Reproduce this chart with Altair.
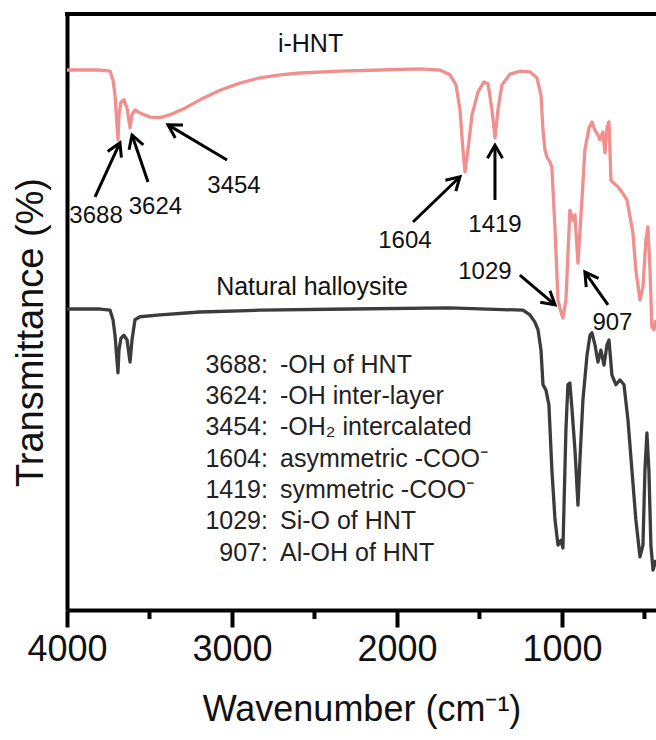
import math
import altair as alt
import pandas as pd

FONT = "Liberation Sans"
W, H = 589, 596
WN_MAX, WN_MIN = 4000, 430

# ---------------- spectra (wavenumber, transmittance a.u.) ----------------
ihnt_wn = [4000, 3800, 3739, 3721, 3709, 3697, 3691, 3685, 3673, 3655, 3636, 3618, 3606,
           3588, 3558, 3497, 3436, 3376, 3285, 3194, 3073, 2952, 2830, 2709, 2588, 2345,
           2103, 1861, 1739, 1679, 1642, 1618, 1600, 1588, 1570, 1545, 1509, 1473, 1448,
           1424, 1406, 1388, 1364, 1315, 1255, 1194, 1152, 1127, 1115, 1103, 1091, 1073,
           1061, 1042, 1024, 1006, 994, 976, 952, 933, 921, 903, 879, 861, 836, 818, 800,
           782, 770, 752, 739, 727, 715, 703, 685, 661, 636, 606, 570, 552, 527, 509, 491,
           479, 467, 455, 442, 430]
ihnt_t = [90.6, 90.6, 90.4, 88.9, 86.4, 81.4, 78.9, 83.1, 85.2, 85.6, 84.2, 80.9, 83.1,
          83.9, 83.4, 82.7, 82.6, 83.1, 84.2, 85.6, 87.2, 88.4, 89.3, 89.8, 90.1, 90.4,
          90.6, 90.8, 90.6, 89.8, 88.1, 83.9, 77.2, 73.5, 77.2, 83.1, 86.9, 88.6, 88.3,
          83.9, 79.2, 83.9, 88.1, 89.9, 90.4, 90.3, 89.3, 86.4, 80.5, 77.2, 76.0, 75.2,
          74.3, 63.8, 52.0, 50.0, 49.0, 52.0, 67.1, 65.4, 66.3, 58.2, 68.8, 77.2, 80.9,
          81.9, 80.5, 79.7, 78.9, 80.2, 76.7, 80.9, 81.9, 72.1, 71.6, 71.0, 70.1, 68.8,
          63.3, 57.0, 52.0, 54.2, 62.1, 64.3, 57.6, 47.5, 47.0, 48.7]

nat_wn = [4000, 3800, 3739, 3721, 3709, 3697, 3691, 3685, 3673, 3655, 3636, 3618, 3606,
          3588, 3558, 3436, 3194, 2830, 2285, 1679, 1236, 1194, 1164, 1145, 1127, 1115,
          1097, 1079, 1061, 1042, 1024, 1006, 994, 976, 964, 952, 939, 921, 903, 891, 873,
          848, 830, 818, 800, 782, 764, 745, 727, 715, 697, 673, 648, 624, 600, 576, 552,
          527, 509, 497, 485, 473, 461, 448, 430]
nat_t = [50.5, 50.5, 50.3, 48.7, 46.1, 41.9, 39.8, 43.6, 45.6, 46.1, 45.3, 41.6, 45.3,
         48.7, 49.2, 49.5, 50.0, 50.3, 50.5, 50.7, 50.3, 49.5, 48.3, 47.0, 43.6, 37.8,
         36.9, 34.4, 23.5, 15.1, 10.9, 11.7, 10.4, 30.2, 37.8, 38.1, 33.6, 26.8, 17.6,
         25.2, 35.2, 42.8, 46.1, 46.5, 44.5, 41.6, 43.6, 41.1, 44.5, 45.3, 39.4, 37.8,
         38.6, 37.8, 31.9, 23.5, 15.1, 8.9, 10.9, 23.5, 29.7, 23.5, 10.9, 6.7, 8.4]

series_names = ["i-HNT", "Natural halloysite"]
series_colors = ["#F08F8E", "#3C3C3C"]

# ---------------- series labels ----------------
lab_text = ["i-HNT", "Natural  halloysite"]
lab_wn = [2524, 2515]
lab_t = [93.6, 52.9]

# ---------------- peak labels + arrows ----------------
peak_text = ["3688", "3624", "3454", "1604", "1419", "1029", "907"]
peak_wn = [3824, 3464, 2988, 1952, 1406, 1467, 694]
peak_t = [65.0, 66.4, 70.0, 60.7, 63.4, 55.5, 47.0]

arrow_tail_wn = [3830, 3509, 3030, 1903, 1406, 1255, 721]
arrow_tail_t = [69.3, 71.8, 75.5, 65.1, 68.8, 56.2, 51.2]
arrow_head_wn = [3679, 3606, 3388, 1618, 1406, 1042, 861]
arrow_head_t = [78.4, 79.7, 81.4, 72.7, 78.0, 51.2, 56.7]

# ---------------- assignment list ----------------
assign_num = ["3688:", "3624:", "3454:", "1604:", "1419:", "1029:", "907:"]
assign_desc = ["-OH of HNT", "-OH inter-layer", "-OH\u2082 intercalated",
               "asymmetric -COO\u207b", "symmetric -COO\u207b", "Si-O of HNT", "Al-OH of HNT"]
assign_t = [39.8, 34.6, 29.3, 24.0, 18.8, 13.6, 8.3]
assign_num_wn = 2782
assign_desc_wn = 2709

minor_ticks = [3500, 2500, 1500, 500]
major_ticks = [4000, 3000, 2000, 1000]

# ---------------- build tables ----------------
spec = pd.concat([
    pd.DataFrame({"wn": ihnt_wn, "t": ihnt_t, "s": series_names[0]}),
    pd.DataFrame({"wn": nat_wn, "t": nat_t, "s": series_names[1]}),
])

sx = W / (WN_MAX - WN_MIN)
sy = H / 100.0
angles = []
for wt, tt, wh, th in zip(arrow_tail_wn, arrow_tail_t, arrow_head_wn, arrow_head_t):
    dx = -(wh - wt) * sx
    dy = -(th - tt) * sy
    angles.append((math.degrees(math.atan2(dx, -dy)) + 360) % 360)

arrows = pd.DataFrame({"wt": arrow_tail_wn, "tt": arrow_tail_t,
                       "wh": arrow_head_wn, "th": arrow_head_t, "ang": angles})
peaks = pd.DataFrame({"wn": peak_wn, "t": peak_t, "txt": peak_text})
labs = pd.DataFrame({"wn": lab_wn, "t": lab_t, "txt": lab_text})
assign = pd.DataFrame({"num": assign_num, "desc": assign_desc, "t": assign_t,
                       "wn1": assign_num_wn, "wn2": assign_desc_wn})
minor = pd.DataFrame({"wn": minor_ticks})

xscale = alt.Scale(domain=[WN_MAX, WN_MIN], nice=False, zero=False)
yscale = alt.Scale(domain=[0, 100], nice=False, zero=False)

xaxis = alt.Axis(values=major_ticks, title="Wavenumber (cm\u207b\u00b9)", grid=False,
                 domainWidth=4, domainColor="black", tickWidth=4, tickColor="black",
                 tickSize=17, labelFontSize=36, labelFont=FONT, labelColor="#111111",
                 labelPadding=33, labelBaseline="alphabetic", labelFlush=False,
                 titleFontSize=36, titleFont=FONT, titleFontWeight="normal",
                 titleColor="#111111", titleY=110, titleBaseline="alphabetic",
                 format="d")
yaxis = alt.Axis(title="Transmittance (%)", grid=False, ticks=False, labels=False,
                 domainWidth=4, domainColor="black",
                 titleFontSize=38, titleFont=FONT, titleFontWeight="normal",
                 titleColor="#111111", titleX=-25, titleY=318, titleAngle=-90,
                 titleBaseline="alphabetic", titleAlign="center")

lines = alt.Chart(spec).mark_line(strokeWidth=3.3, strokeJoin="round").encode(
    x=alt.X("wn:Q", scale=xscale, axis=xaxis),
    y=alt.Y("t:Q", scale=yscale, axis=yaxis),
    color=alt.Color("s:N", scale=alt.Scale(domain=series_names, range=series_colors),
                    legend=None),
    detail="s:N",
)

top_border = alt.Chart(minor).mark_rule(color="black", strokeWidth=4).encode(
    x=alt.value(-2), x2=alt.value(W), y=alt.value(0))

minor_rules = alt.Chart(minor).mark_rule(color="black", strokeWidth=4).encode(
    x=alt.X("wn:Q", scale=xscale), y=alt.value(H), y2=alt.value(H + 9))

series_labels = alt.Chart(labs).mark_text(font=FONT, fontSize=25, color="#111111",
                                          baseline="alphabetic", align="center").encode(
    x=alt.X("wn:Q", scale=xscale), y=alt.Y("t:Q", scale=yscale), text="txt:N")

peak_labels = alt.Chart(peaks).mark_text(font=FONT, fontSize=24, color="#111111",
                                         baseline="alphabetic", align="center").encode(
    x=alt.X("wn:Q", scale=xscale), y=alt.Y("t:Q", scale=yscale), text="txt:N")

shafts = alt.Chart(arrows).mark_rule(color="black", strokeWidth=3).encode(
    x=alt.X("wt:Q", scale=xscale), y=alt.Y("tt:Q", scale=yscale),
    x2="wh:Q", y2="th:Q")

heads = alt.Chart(arrows).mark_point(
    shape="M-0.55,0.95L0,0L0.55,0.95", size=750, filled=False, stroke="black",
    strokeWidth=3, opacity=1, strokeJoin="miter").encode(
    x=alt.X("wh:Q", scale=xscale), y=alt.Y("th:Q", scale=yscale),
    angle=alt.Angle("ang:Q", scale=None))

assign_nums = alt.Chart(assign).mark_text(font=FONT, fontSize=25, color="#222222",
                                          baseline="alphabetic", align="right").encode(
    x=alt.X("wn1:Q", scale=xscale), y=alt.Y("t:Q", scale=yscale), text="num:N")
assign_descs = alt.Chart(assign).mark_text(font=FONT, fontSize=25, color="#222222",
                                           baseline="alphabetic", align="left").encode(
    x=alt.X("wn2:Q", scale=xscale), y=alt.Y("t:Q", scale=yscale), text="desc:N")

chart = alt.layer(lines, top_border, minor_rules, series_labels, peak_labels, shafts,
                  heads, assign_nums, assign_descs).properties(
    width=W, height=H,
    autosize=alt.AutoSizeParams(type="none"),
    padding={"left": 67, "top": 14, "right": 0, "bottom": 130},
).configure_view(stroke=None).configure(background="white")

chart.save("out.html", embed_options={"renderer": "svg", "actions": False})
